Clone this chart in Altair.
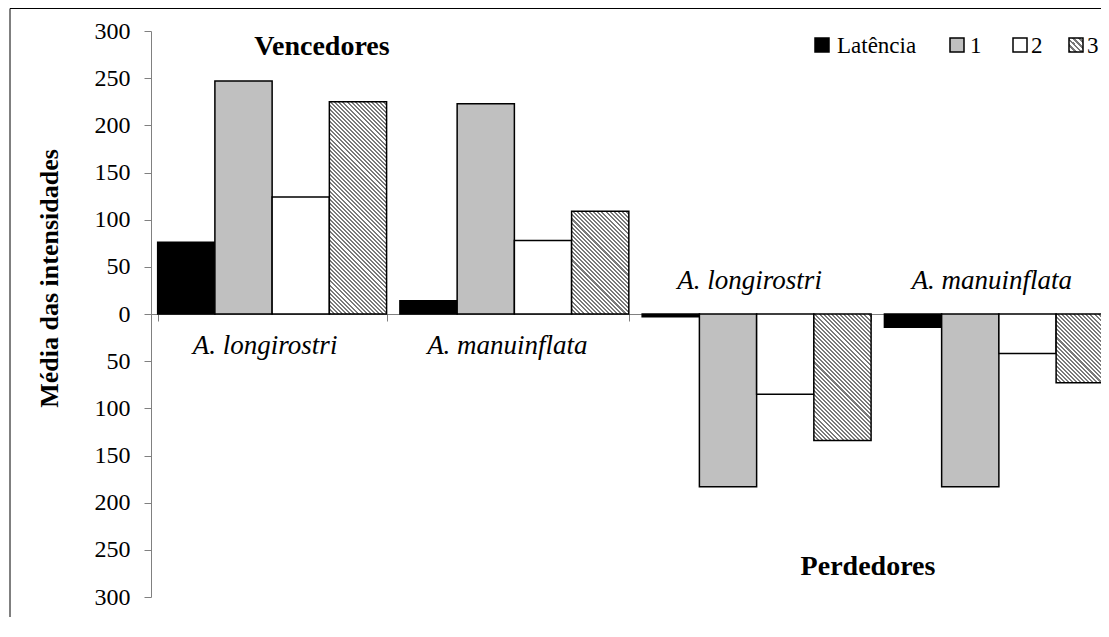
import math
import altair as alt
import pandas as pd

# ---------------- data ----------------
species = ["A. longirostri", "A. manuinflata", "A. longirostri", "A. manuinflata"]
outcome = ["Vencedores", "Vencedores", "Perdedores", "Perdedores"]
series = ["Latência", "1", "2", "3"]
latencia = [76, 14, -3, -14]
fase1 = [247, 223, -183, -183]
fase2 = [124, 78, -85, -42]
fase3 = [225, 109, -134, -73]
y_ticks = [-300, -250, -200, -150, -100, -50, 0, 50, 100, 150, 200, 250, 300]

# ---------------- layout constants ----------------
W, H = 950, 566          # visible plot area
XR = 969                 # full band range (last group runs past the edge)
PAD_IN, PAD_OUT = 0.055, 0.0275
Y_DOM = [-300, 300]
FONT = "Liberation Serif"
HATCH_COLOR = "#7a7a7a"

keys = [f"{o} - {s}" for o, s in zip(outcome, species)]
rows = []
for i, k in enumerate(keys):
    for s, vals in zip(series, [latencia, fase1, fase2, fase3]):
        rows.append({"key": k, "species": species[i], "outcome": outcome[i],
                     "series": s, "value": vals[i]})
df = pd.DataFrame(rows)
cat_df = pd.DataFrame({"key": keys, "species": species, "outcome": outcome})
one = pd.DataFrame({"d": [0]})   # single row for decorations

step = XR / (len(keys) - PAD_IN + 2 * PAD_OUT)
bar_w = step * (1 - PAD_IN) / len(series)
px_per_unit = H / (Y_DOM[1] - Y_DOM[0])


def hatch(w, h, period=2.9, color=HATCH_COLOR):
    """Diagonal '\\' stripes as a hard-stop linear gradient in bbox units."""
    r = h / w
    k = (1 + r) / (1 + r * r)
    n = max(1, round((w + h) / math.sqrt(2) / period))
    stops = []
    for j in range(n):
        a, b, c = j / n, (j + 0.5) / n, (j + 1) / n
        stops += [{"offset": a, "color": color}, {"offset": b, "color": color},
                  {"offset": b, "color": "white"}, {"offset": c, "color": "white"}]
    return {"gradient": "linear", "x1": 0, "y1": 1, "x2": k, "y2": 1 - r * k,
            "stops": stops}


x_enc = alt.X("key:N", sort=keys,
              scale=alt.Scale(domain=keys, range=[0, XR],
                              paddingInner=PAD_IN, paddingOuter=PAD_OUT),
              axis=alt.Axis(labels=False, title=None, domainColor="#808080",
                            tickColor="#808080", tickSize=7, tickBand="extent",
                            offset=-(H / 2), grid=False))
xo_enc = alt.XOffset("series:N", sort=series,
                     scale=alt.Scale(domain=series, paddingInner=0, paddingOuter=0))
y_enc = alt.Y("value:Q",
              scale=alt.Scale(domain=Y_DOM, nice=False),
              axis=alt.Axis(values=y_ticks, labelExpr="abs(datum.value)",
                            title="Média das intensidades", titleFont=FONT,
                            titleFontSize=26, titleFontWeight="bold",
                            titleColor="black", titleAngle=270,
                            titleX=-102, titleY=247, titleAlign="center",
                            titleBaseline="middle",
                            domainColor="#808080", tickColor="#808080",
                            tickSize=7, labelPadding=14, grid=False))

base = alt.Chart(df)

plain = base.transform_filter(alt.datum.series != "3").mark_bar(
    stroke="black", strokeWidth=1.5, clip=True
).encode(
    x=x_enc, xOffset=xo_enc, y=y_enc, y2=alt.datum(0),
    fill=alt.Fill("series:N",
                  scale=alt.Scale(domain=series[:3],
                                  range=["black", "#c0c0c0", "white"]),
                  legend=None),
)

hatched = []
for i, k in enumerate(keys):
    h = abs(fase3[i]) * px_per_unit
    hatched.append(
        base.transform_filter((alt.datum.key == k) & (alt.datum.series == "3"))
        .mark_bar(stroke="black", strokeWidth=1.5, clip=True, fill=hatch(bar_w, h))
        .encode(x=x_enc, xOffset=xo_enc, y=y_enc, y2=alt.datum(0))
    )

cat_top = alt.Chart(cat_df).transform_filter(alt.datum.outcome == "Vencedores").mark_text(
    font=FONT, fontStyle="italic", fontSize=27, baseline="middle", dy=32, dx=-7,
    color="black"
).encode(x=alt.X("key:N", sort=keys), y=alt.datum(0), text="species:N")

cat_bot = alt.Chart(cat_df).transform_filter(alt.datum.outcome == "Perdedores").mark_text(
    font=FONT, fontStyle="italic", fontSize=27, baseline="middle", dy=-33, dx=-7,
    color="black"
).encode(x=alt.X("key:N", sort=keys), y=alt.datum(0), text="species:N")

title_v = alt.Chart(one).mark_text(
    font=FONT, fontWeight="bold", fontSize=28, baseline="middle", align="center",
    color="black", text="Vencedores"
).encode(x=alt.value(171), y=alt.value(16))
title_p = alt.Chart(one).mark_text(
    font=FONT, fontWeight="bold", fontSize=28, baseline="middle", align="center",
    color="black", text="Perdedores"
).encode(x=alt.value(717), y=alt.value(536))

# manual legend
leg = []
leg_items = [("Latência", "black", 664, 686), ("1", "#c0c0c0", 799, 819),
             ("2", "white", 862, 880), ("3", None, 918, 936)]
for lab, col, sx, tx in leg_items:
    fill = col if col else hatch(14, 14, period=3.6)
    leg.append(alt.Chart(one).mark_rect(
        fill=fill, stroke="black", strokeWidth=1.5).encode(
        x=alt.value(sx), x2=alt.value(sx + 14), y=alt.value(7), y2=alt.value(21)))
    leg.append(alt.Chart(one).mark_text(
        font=FONT, fontSize=23, align="left", baseline="middle", color="black",
        text=lab).encode(x=alt.value(tx), y=alt.value(15)))

frame_l = alt.Chart(one).mark_rule(color="black", strokeWidth=1).encode(
    x=alt.value(-141), y=alt.value(-22.5), y2=alt.value(H + 30))
frame_t = alt.Chart(one).mark_rule(color="black", strokeWidth=1).encode(
    x=alt.value(-141), x2=alt.value(W + 10), y=alt.value(-22.5))

chart = alt.layer(
    plain, *hatched, cat_top, cat_bot, title_v, title_p, *leg, frame_l, frame_t
).properties(
    width=W, height=H,
    autosize=alt.AutoSizeParams(type="none"),
    padding={"left": 143, "top": 23, "right": 0, "bottom": 20},
).configure_view(stroke=None).configure_axis(
    labelFont=FONT, labelFontSize=24, labelColor="black"
)

chart.save("out.html", embed_options={"renderer": "svg", "actions": False})
